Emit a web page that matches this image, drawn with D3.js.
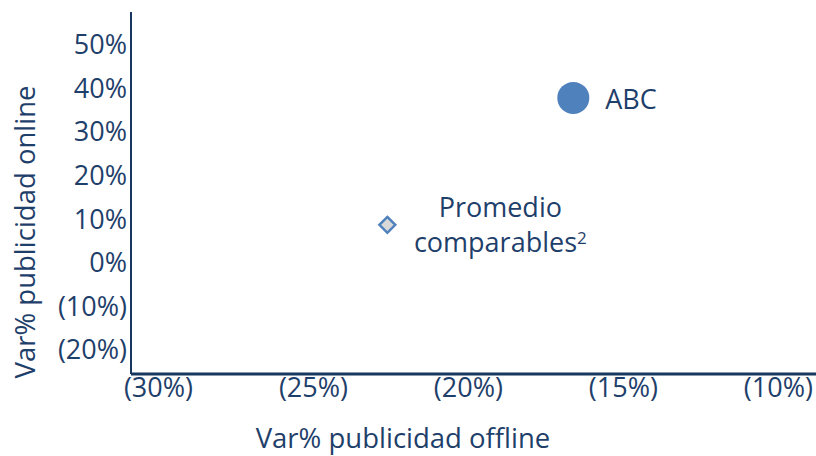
<html>
<head>
<script src="https://d3js.org/d3.v7.min.js"></script>
<style>
body { margin: 0; background: #fff; font-family: 'Open Sans', 'Noto Sans', sans-serif; }
</style>
</head>
<body>
<div id="chart"></div>
<script>
  // chart values
  var xTicks = [-30, -25, -20, -15, -10];
  var yTicks = [50, 40, 30, 20, 10, 0, -10, -20];
  var names = ["ABC", "Promedio comparables"];
  var offline = [-16.6, -22.6];
  var online = [37.6, 8.5];
  var shapes = ["circle", "diamond"];

  var width = 816, height = 456;
  var navy = "#1F3F6B";
  var fs = "27px";

  function pct(v) {
    return v < 0 ? "(" + Math.abs(v) + "%)" : v + "%";
  }

  var svg = d3.select("#chart").append("svg")
    .attr("width", width)
    .attr("height", height);

  var x = d3.scaleLinear().domain([-30.87, -8.77]).range([131, 816]);
  var y = d3.scaleLinear().domain([-25.7, 57.3]).range([374, 12]);

  // y axis
  var yAxis = svg.append("g")
    .attr("transform", "translate(131,0)")
    .call(d3.axisLeft(y).tickValues(yTicks).tickFormat(pct).tickSize(0).tickPadding(4));
  yAxis.select(".domain").remove();
  yAxis.selectAll("text")
    .attr("fill", navy)
    .attr("dy", "0.36em")
    .style("font-size", fs)
    .style("font-family", "'Open Sans', sans-serif");

  // x axis
  var xAxis = svg.append("g")
    .attr("transform", "translate(0,374)")
    .call(d3.axisBottom(x).tickValues(xTicks).tickFormat(pct).tickSize(0).tickPadding(4));
  xAxis.select(".domain").remove();
  xAxis.selectAll("text")
    .attr("fill", navy)
    .style("font-size", fs)
    .style("font-family", "'Open Sans', sans-serif");

  // axis lines
  svg.append("line")
    .attr("x1", 131).attr("x2", 131)
    .attr("y1", y.range()[1]).attr("y2", y.range()[0])
    .attr("stroke", "#17375E").attr("stroke-width", 2);
  svg.append("line")
    .attr("x1", 131).attr("x2", width)
    .attr("y1", 374).attr("y2", 374)
    .attr("stroke", "#17375E").attr("stroke-width", 3);

  // axis titles
  svg.append("text")
    .attr("x", 403).attr("y", 448)
    .attr("text-anchor", "middle")
    .attr("fill", navy)
    .style("font-size", "27.5px")
    .text("Var% publicidad offline");
  svg.append("text")
    .attr("transform", "translate(35,232) rotate(-90)")
    .attr("text-anchor", "middle")
    .attr("fill", navy)
    .style("font-size", "27.5px")
    .text("Var% publicidad online");

  // points
  var pts = names.map(function(n, i) {
    return { name: n, x: offline[i], y: online[i], shape: shapes[i] };
  });

  svg.selectAll(".pt")
    .data(pts).enter()
    .append("path")
    .attr("class", "pt")
    .attr("transform", function(d) { return "translate(" + x(d.x) + "," + y(d.y) + ")"; })
    .attr("d", function(d) {
      return d.shape == "circle"
        ? d3.symbol().type(d3.symbolCircle).size(Math.PI * 16 * 16)()
        : d3.symbol().type(d3.symbolDiamond2).size(160)();
    })
    .attr("fill", function(d) { return d.shape == "circle" ? "#4F81BD" : "#D9D9D9"; })
    .attr("stroke", "#4F81BD")
    .attr("stroke-width", function(d) { return d.shape == "circle" ? 0 : 2.5; });

  // labels
  svg.append("text")
    .attr("x", x(offline[0]) + 32).attr("y", y(online[0]) + 11)
    .attr("fill", navy)
    .style("font-size", fs)
    .text(names[0]);

  var cx = x(offline[1]) + 113;
  var lab = svg.append("text")
    .attr("text-anchor", "middle")
    .attr("fill", navy)
    .style("font-size", fs);
  lab.append("tspan").attr("x", cx).attr("y", y(online[1]) - 8).text("Promedio");
  var l2 = lab.append("tspan").attr("x", cx).attr("y", y(online[1]) + 27).text("comparables");
  l2.append("tspan").attr("dy", "-0.45em").style("font-size", "17px").text("2");
</script>
</body>
</html>
